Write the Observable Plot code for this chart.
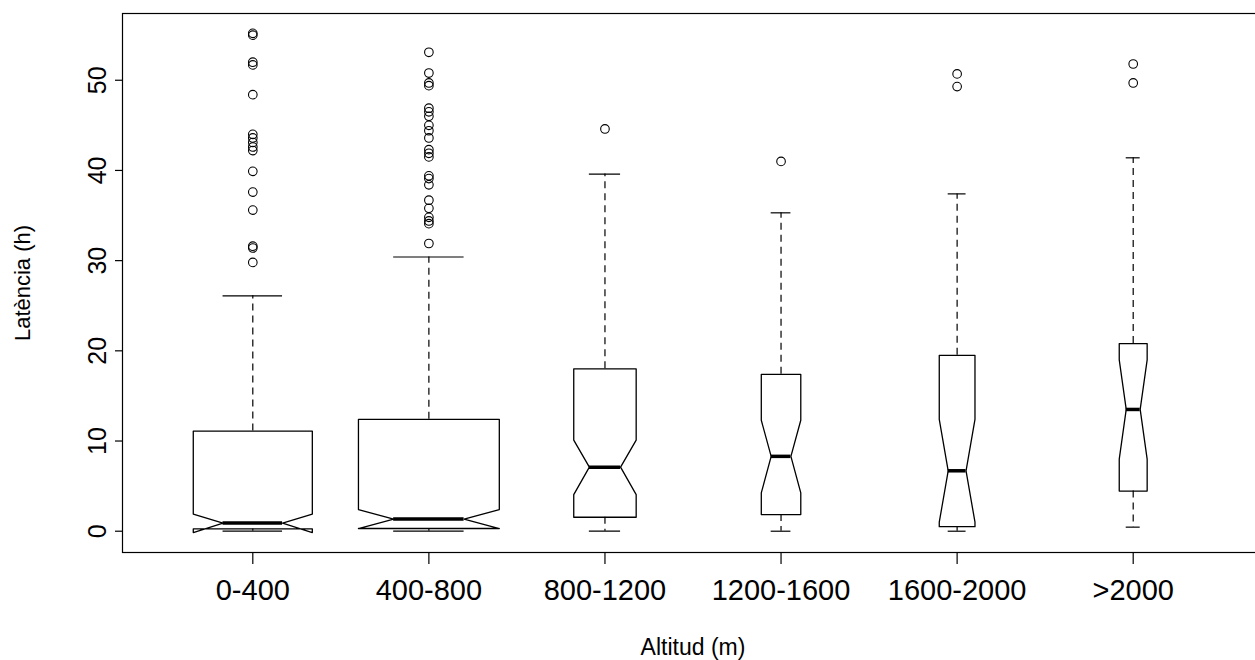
<!DOCTYPE html>
<html><head><meta charset="utf-8">
<script src="https://cdn.jsdelivr.net/npm/d3@7"></script>
<script src="https://cdn.jsdelivr.net/npm/@observablehq/plot@0.6"></script>
<style>
html,body{margin:0;padding:0;background:#fff;overflow:hidden;}
svg{max-width:none !important;}
</style></head><body><div id="chart"></div>
<script>
// ---- data ----
const categories = ["0-400", "400-800", "800-1200", "1200-1600", "1600-2000", ">2000"];
const groupSize   = [200, 280, 55, 22, 18, 11];          // drives varwidth box widths
const whiskerLow  = [0, 0, 0, 0, 0, 0.45];
const hingeLow    = [0.25, 0.3, 1.55, 1.85, 0.5, 4.45];
const notchLow    = [-0.15, 0.3, 4.05, 4.25, 1.0, 8.0];
const medians     = [0.9, 1.35, 7.1, 8.3, 6.7, 13.5];
const notchHigh   = [1.9, 2.4, 10.1, 12.3, 12.4, 19.0];
const hingeHigh   = [11.1, 12.4, 18.0, 17.4, 19.5, 20.8];
const whiskerHigh = [26.1, 30.4, 39.6, 35.3, 37.4, 41.4];
const outliers = [
  [55.0, 55.2, 52.0, 51.7, 48.4, 44.0, 43.6, 43.1, 42.6, 42.2, 39.9, 37.6, 35.6, 31.6, 31.4, 29.8],
  [53.1, 50.8, 49.7, 49.4, 46.9, 46.5, 46.0, 45.0, 44.4, 43.6, 42.3, 41.9, 41.5, 39.4, 39.1, 38.4, 36.7, 35.8, 34.8, 34.4, 34.1, 31.9],
  [44.6],
  [41.0],
  [50.7, 49.3],
  [51.8, 49.7]
];
const yTicks = [0, 10, 20, 30, 40, 50];
const xTitle = "Altitud (m)";
const yTitle = "Latència (h)";

// ---- derived tables ----
const boxwex = 0.8;
const maxN = d3.max(groupSize);
const boxes = categories.map((c, i) => ({
  cat: c, pos: i + 1,
  hw: boxwex / 2 * Math.sqrt(groupSize[i] / maxN),
  lo: whiskerLow[i], q1: hingeLow[i], cl: notchLow[i], med: medians[i],
  ch: notchHigh[i], q3: hingeHigh[i], hi: whiskerHigh[i]
}));
const poly = boxes.flatMap(b => [
  [b.pos - b.hw, b.q1], [b.pos + b.hw, b.q1], [b.pos + b.hw, b.cl], [b.pos + b.hw / 2, b.med],
  [b.pos + b.hw, b.ch], [b.pos + b.hw, b.q3], [b.pos - b.hw, b.q3], [b.pos - b.hw, b.ch],
  [b.pos - b.hw / 2, b.med], [b.pos - b.hw, b.cl], [b.pos - b.hw, b.q1]
].map(([x, y]) => ({cat: b.cat, x, y})));
const pts = categories.flatMap((c, i) => outliers[i].map(v => ({cat: c, pos: i + 1, v})));

const chart = Plot.plot({
  width: 1264, height: 660,
  marginLeft: 122, marginRight: 1, marginTop: 13, marginBottom: 108,
  style: {fontFamily: "'Liberation Sans', Arial, sans-serif", background: "white", color: "black", maxWidth: "none"},
  x: {type: "linear", domain: [0.26, 6.74]},
  y: {domain: [-2.36, 57.4]},
  marks: [
    Plot.frame({stroke: "black", strokeWidth: 1.2}),
    Plot.ruleX(boxes, {x: "pos", y1: "q3", y2: "hi", stroke: "black", strokeWidth: 1.2, strokeDasharray: "7,5"}),
    Plot.ruleX(boxes, {x: "pos", y1: "q1", y2: "lo", stroke: "black", strokeWidth: 1.2, strokeDasharray: "7,5"}),
    Plot.ruleY(boxes, {y: "hi", x1: d => d.pos - d.hw / 2, x2: d => d.pos + d.hw / 2, stroke: "black", strokeWidth: 1.2}),
    Plot.ruleY(boxes, {y: "lo", x1: d => d.pos - d.hw / 2, x2: d => d.pos + d.hw / 2, stroke: "black", strokeWidth: 1.2}),
    Plot.line(poly, {x: "x", y: "y", z: "cat", stroke: "black", strokeWidth: 1.3, curve: "linear"}),
    Plot.ruleY(boxes, {y: "med", x1: d => d.pos - d.hw / 2, x2: d => d.pos + d.hw / 2, stroke: "black", strokeWidth: 3.5}),
    Plot.dot(pts, {x: "pos", y: "v", r: 4.3, stroke: "black", fill: "none", strokeWidth: 1.1}),
    Plot.axisY(yTicks, {tickSize: 7, tickRotate: -90, tickPadding: 10, fontSize: 25, label: null, strokeWidth: 1.2}),
    Plot.axisX(d3.range(1, categories.length + 1), {tickSize: 12, tickPadding: 15, fontSize: 29,
      tickFormat: i => categories[i - 1], label: null, strokeWidth: 1.2}),
    Plot.text([xTitle], {frameAnchor: "bottom", dy: 102, fontSize: 23, lineAnchor: "bottom", textAnchor: "middle"}),
    Plot.text([yTitle], {frameAnchor: "left", dx: -100, rotate: -90, fontSize: 22, lineAnchor: "middle", textAnchor: "middle"})
  ]
});
document.getElementById("chart").appendChild(chart);
</script>
</body></html>
